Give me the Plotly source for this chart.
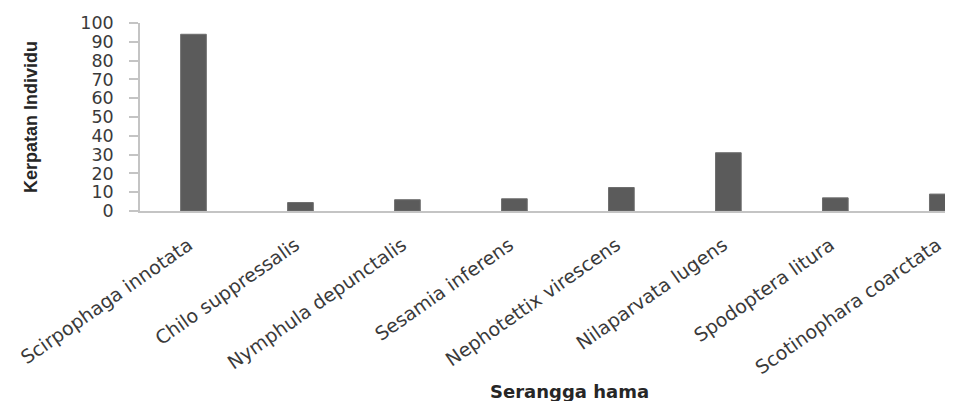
import plotly.graph_objects as go

categories = ["Scirpophaga innotata", "Chilo suppressalis", "Nymphula depunctalis",
              "Sesamia inferens", "Nephotettix virescens", "Nilaparvata lugens",
              "Spodoptera litura", "Scotinophara coarctata"]
values = [94, 4.5, 6, 6.5, 12.5, 31, 7, 9]
y_ticks = list(range(0, 101, 10))

# page has an 8px body margin; lay out in page pixels minus that offset
OFF = 8
W, H = 953 - OFF, 401 - OFF
L, R, T, B = 140 - OFF, 0, 23 - OFF, 401 - 211
PW, PH = W - L - R, H - T - B

fig = go.Figure()
fig.add_trace(go.Bar(
    x=list(range(len(categories))), y=values,
    marker=dict(color="#5b5b5b", line=dict(color="#6e6e6e", width=1)),
    width=0.24,
))

fig.update_layout(
    width=W, height=H,
    margin=dict(l=L, r=R, t=T, b=B, autoexpand=False),
    paper_bgcolor="white", plot_bgcolor="white",
    showlegend=False,
    font=dict(family="DejaVu Sans", color="#3a3a3a"),
)

fig.update_xaxes(
    range=[-0.5, 7.1], automargin=False,
    tickmode="array", tickvals=list(range(len(categories))), ticktext=categories,
    tickangle=-35,
    tickfont=dict(family="DejaVu Sans", size=19, color="#3a3a3a"),
    showline=True, linecolor="#c4c4c4", linewidth=1.5,
    ticks="", showgrid=False, zeroline=False,
    ticklabelstandoff=14, ticklabelshift=-5,
)

fig.update_yaxes(
    range=[0, 100], automargin=False,
    tickmode="array", tickvals=y_ticks, ticktext=[str(v) for v in y_ticks],
    tickfont=dict(family="DejaVu Sans", size=17.5, color="#3a3a3a"),
    showline=True, linecolor="#c4c4c4", linewidth=1.5,
    ticks="outside", ticklen=9, tickcolor="#c4c4c4", tickwidth=1.5,
    ticklabelstandoff=12,
    showgrid=False, zeroline=False,
)

fig.add_annotation(
    text="Kerpatan Individu", textangle=-90,
    xref="paper", yref="paper",
    x=(31 - OFF - L) / PW, y=0.5,
    xanchor="center", yanchor="middle", showarrow=False,
    font=dict(family="Liberation Sans", size=18, color="#262626", weight="bold"),
)

fig.add_annotation(
    text="Serangga hama",
    xref="paper", yref="paper",
    x=(569 - OFF - L) / PW, y=-(391 - 211) / PH,
    xanchor="center", yanchor="middle", showarrow=False,
    font=dict(family="DejaVu Sans", size=18, color="#262626", weight="bold"),
)

fig.write_html("out.html")
